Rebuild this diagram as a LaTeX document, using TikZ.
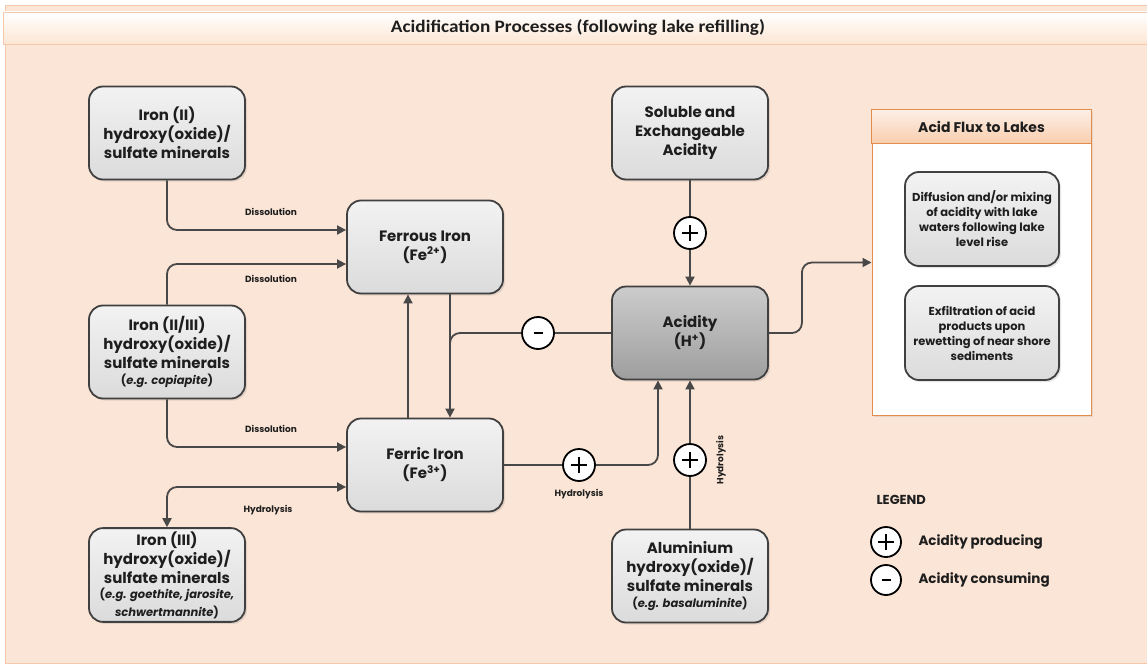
\documentclass[tikz,border=0pt]{standalone}
\usepackage{fontspec}
\setmainfont{Poppins}
\newfontfamily\titlefont{Carlito}
\usetikzlibrary{arrows.meta,shadows,calc}

\definecolor{peach}{RGB}{251,229,214}
\definecolor{peachedge}{RGB}{244,200,170}
\definecolor{boxline}{RGB}{64,64,64}
\definecolor{wire}{RGB}{72,72,72}
\definecolor{fluxedge}{RGB}{228,140,76}
\definecolor{fluxhead}{RGB}{248,205,174}
\definecolor{txt}{RGB}{30,30,30}

\tikzset{
  mainbox/.style={draw=boxline, line width=1.8pt, rounded corners=14pt,
    top color=black!5, bottom color=black!14,
    minimum width=156pt, minimum height=93pt, align=center, text=txt,
    font=\bfseries\fontsize{15}{19}\selectfont,
    drop shadow={shadow xshift=2pt, shadow yshift=-2pt, opacity=0.2}},
  darkbox/.style={mainbox, top color=black!20, bottom color=black!38},
  fluxbox/.style={mainbox, minimum width=154pt, minimum height=94pt,
    font=\bfseries\fontsize{11.5}{15}\selectfont},
  conn/.style={draw=wire, line width=1.8pt, rounded corners=10pt},
  tip/.style={-{Triangle[length=9pt,width=9pt]}},
  sign/.style={circle, draw=black, line width=1.8pt, fill=white,
    minimum size=32pt, inner sep=0pt},
  plussign/.style={sign, path picture={
    \draw[line width=2.2pt,black]
      ($(path picture bounding box.center)+(-8pt,0)$) -- ++(16pt,0)
      ($(path picture bounding box.center)+(0,-8pt)$) -- ++(0,16pt);}},
  minussign/.style={sign, path picture={
    \draw[line width=2.4pt,black]
      ($(path picture bounding box.center)+(-4.5pt,0)$) -- ++(9pt,0);}},
  flowlabel/.style={font=\bfseries\fontsize{9}{10}\selectfont, text=txt},
  legendtext/.style={font=\bfseries\fontsize{13.5}{16}\selectfont, text=txt, anchor=west}
}

\newcommand{\smallfs}{\fontsize{11.5}{15}\selectfont}

\begin{document}
\begin{tikzpicture}[x=1pt,y=-1pt]
\useasboundingbox (0,0) rectangle (1147,666);
\fill[white] (0,0) rectangle (1147,666);

% background panel and title bar
\filldraw[fill=peach, draw=peachedge, line width=0.8pt] (5,5) rectangle (1147,663);
\shade[top color=white, bottom color=peach!85!orange!60, draw=peachedge, line width=0.8pt]
  (3,12) rectangle (1147,44);
\node[font=\titlefont\bfseries\fontsize{17.5}{20}\selectfont, text=txt] (title) at (578,27)
  {\scalebox{1.1}[1]{Acidification Processes (following lake refilling)}};

% mineral and iron pools
\node[mainbox] (i2)  at (167,133) {Iron (II)\\hydroxy(oxide)/\\sulfate minerals};
\node[mainbox] (i23) at (167,352) {Iron (II/III)\\hydroxy(oxide)/\\sulfate minerals\\[-3pt]\smallfs(\textit{e.g. copiapite})};
\node[mainbox] (i3)  at (167,575) {Iron (III)\\hydroxy(oxide)/\\sulfate minerals\\[-4pt]\smallfs(\textit{e.g. goethite, jarosite,}\\[-1pt]\smallfs\textit{schwertmannite})};
\node[mainbox] (fe2) at (425,247) {Ferrous Iron\\(Fe\textsuperscript{2+})};
\node[mainbox] (fe3) at (425,465) {Ferric Iron\\(Fe\textsuperscript{3+})};
\node[mainbox] (sol) at (690,133) {Soluble and\\Exchangeable\\Acidity};
\node[darkbox] (acid) at (690,333) {Acidity\\(H\textsuperscript{+})};
\node[mainbox] (al)  at (690,576) {Aluminium\\hydroxy(oxide)/\\sulfate minerals\\[-3pt]\smallfs(\textit{e.g. basaluminite})};

% acid flux panel
\node[draw=fluxedge, line width=1pt, fill=white, minimum width=219pt, minimum height=305pt,
  drop shadow={shadow xshift=2pt, shadow yshift=-2pt, opacity=0.15}] (flux) at (981.5,262.5) {};
\shade[top color=peach!60, bottom color=fluxhead, draw=fluxedge, line width=1pt]
  (flux.north west) rectangle ($(flux.north east)+(0,34)$);
\node[font=\bfseries\fontsize{14}{16}\selectfont, text=txt] (fluxtitle) at (981.5,127) {Acid Flux to Lakes};
\node[fluxbox] (diff) at (982,219) {Diffusion and/or mixing\\of acidity with lake\\waters following lake\\level rise};
\node[fluxbox] (exf)  at (982,333) {Exfiltration of acid\\products upon\\rewetting of near shore\\sediments};

% dissolution and hydrolysis of minerals
\draw[conn,tip] (i2.south) |- ($(fe2.west)+(0,-17)$);
\node[flowlabel] (l1) at (271,212) {Dissolution};
\draw[conn,tip] (i23.north) |- ($(fe2.west)+(0,17)$);
\node[flowlabel] (l2) at (271,279) {Dissolution};
\draw[conn,tip] (i23.south) |- ($(fe3.west)+(0,-18)$);
\node[flowlabel] (l3) at (271,429) {Dissolution};
\draw[conn,{Triangle[length=9pt,width=9pt]}-{Triangle[length=9pt,width=9pt]}]
  (i3.north) |- ($(fe3.west)+(0,22)$);
\node[flowlabel] (l4) at (268,510) {Hydrolysis};

% iron redox cycle
\draw[conn,tip] ($(fe3.north)+(-17,0)$) -- ($(fe2.south)+(-17,0)$);
\draw[conn,tip] ($(fe2.south)+(25,0)$) -- ($(fe3.north)+(25,0)$);
\node[minussign] (m1) at (538,333) {};
\draw[conn] (acid.west) -- (m1.east);
\draw[conn] (m1.west) -| ($(fe3.north)+(25,-50)$);

% acidity sources
\node[plussign] (p1) at (690,233) {};
\draw[conn] (sol.south) -- (p1.north);
\draw[conn,tip] (p1.south) -- (acid.north);

\node[plussign] (p2) at (579,465) {};
\draw[conn] (fe3.east) -- (p2.west);
\draw[conn,tip] (p2.east) -| ($(acid.south)+(-32,0)$);
\node[flowlabel] (l5) at (579,494) {Hydrolysis};

\node[plussign] (p3) at (690,460) {};
\draw[conn] (al.north) -- (p3.south);
\draw[conn,tip] (p3.north) -- (acid.south);
\node[flowlabel, rotate=90] (l6) at (721,460) {Hydrolysis};

% flux to lakes
\draw[conn,tip] (acid.east) -- ++(33,0) |- (flux.west);

% legend
\node[font=\bfseries\fontsize{13}{15}\selectfont, text=txt, anchor=west] (leg) at (873,500) {LEGEND};
\node[plussign, minimum size=30pt] (lp) at (886,542) {};
\node[legendtext] (lpt) at (915,542) {Acidity producing};
\node[minussign, minimum size=30pt] (lm) at (886,580) {};
\node[legendtext] (lmt) at (915,580) {Acidity consuming};
\end{tikzpicture}
\end{document}
